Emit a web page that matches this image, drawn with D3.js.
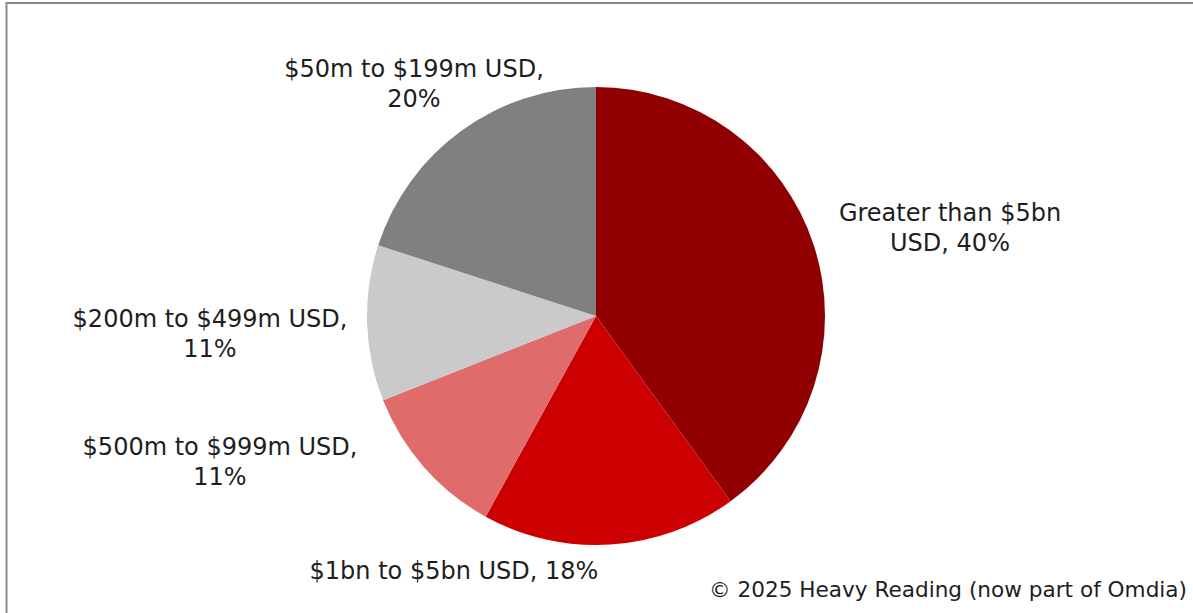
<!DOCTYPE html>
<html>
<head>
<meta charset="utf-8">
<script src="https://cdn.jsdelivr.net/npm/d3@7"></script>
<style>
  html, body { margin: 0; padding: 0; background: #fff; }
  svg { display: block; }
  text { font-family: "DejaVu Sans", Verdana, sans-serif; fill: #1e1e1e; }
</style>
</head>
<body>
<svg id="chart" width="1193" height="613"></svg>
<script>
// Share of respondents by company annual revenue
const categories = [
  "Greater than $5bn USD",
  "$1bn to $5bn USD",
  "$500m to $999m USD",
  "$200m to $499m USD",
  "$50m to $199m USD"
];
const shares = [40, 18, 11, 11, 20];
const sliceColors = ["#900000", "#cc0000", "#e06b6b", "#cacaca", "#808080"];

// Label text lines per slice
const labelLines = [
  ["Greater than $5bn", "USD, 40%"],
  ["$1bn to $5bn USD, 18%"],
  ["$500m to $999m USD,", "11%"],
  ["$200m to $499m USD,", "11%"],
  ["$50m to $199m USD,", "20%"]
];
const sourceNote = "\u00a9 2025 Heavy Reading (now part of Omdia)";

const W = 1193, H = 613;
const cx = 596, cy = 316, R = 229;
const labelFont = 24, noteFont = 21.6, lineGap = 30;

// Label block anchor (centre x, first baseline) relative to the pie centre
const labelOffsets = [[354, -95], [-142, 263], [-376, 139], [-386, 11], [-182, -239]];

const svg = d3.select("#chart");

// Chart frame
svg.append("rect")
  .attr("x", 6.5).attr("y", 3)
  .attr("width", W + 20).attr("height", H + 20)
  .attr("fill", "none")
  .attr("stroke", "#8a8a8a")
  .attr("stroke-width", 2);

const data = categories.map((c, i) => ({
  name: c, value: shares[i], color: sliceColors[i], lines: labelLines[i], off: labelOffsets[i]
}));

const pie = d3.pie().sort(null).value(d => d.value).startAngle(0).endAngle(2 * Math.PI);
const arc = d3.arc().innerRadius(0).outerRadius(R);
const arcs = pie(data);

const g = svg.append("g").attr("transform", `translate(${cx},${cy})`);
g.selectAll("path.slice")
  .data(arcs)
  .join("path")
  .attr("class", "slice")
  .attr("d", arc)
  .attr("fill", d => d.data.color);

// Data labels
const labels = g.selectAll("text.label")
  .data(arcs)
  .join("text")
  .attr("class", "label")
  .attr("text-anchor", "middle")
  .attr("font-size", labelFont);

labels.each(function (a) {
  const t = d3.select(this);
  a.data.lines.forEach((ln, k) => {
    t.append("tspan")
      .attr("x", a.data.off[0])
      .attr("y", a.data.off[1] + k * lineGap)
      .text(ln);
  });
});

// Source note
svg.append("text")
  .attr("x", 1187).attr("y", 597)
  .attr("text-anchor", "end")
  .attr("font-size", noteFont)
  .text(sourceNote);
</script>
</body>
</html>
